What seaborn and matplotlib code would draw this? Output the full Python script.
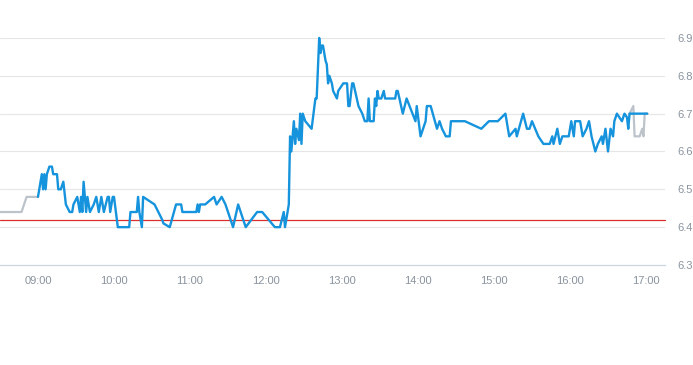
import matplotlib
matplotlib.use("Agg")
import matplotlib.pyplot as plt
import seaborn as sns
import pandas as pd

# ---------------- data ----------------
pre_times = ["08:30", "08:47", "08:51", "09:00"]
pre_prices = [6.44, 6.44, 6.48, 6.48]

day_times = [
    "09:00", "09:01", "09:03", "09:04", "09:05", "09:06", "09:07", "09:09", "09:11", "09:12",
    "09:15", "09:16", "09:18", "09:20", "09:22", "09:25", "09:27", "09:28", "09:31", "09:33",
    "09:34", "09:35", "09:36", "09:38", "09:39", "09:41", "09:44", "09:46", "09:48", "09:50",
    "09:52", "09:55", "09:56", "09:57", "09:59", "10:00", "10:03", "10:12", "10:13", "10:18",
    "10:19", "10:20", "10:22", "10:23", "10:32", "10:38", "10:39", "10:44", "10:49", "10:53",
    "10:54", "11:05", "11:06", "11:07", "11:08", "11:12", "11:19", "11:21", "11:25", "11:28",
    "11:34", "11:38", "11:44", "11:53", "11:57", "12:07", "12:11", "12:14", "12:15", "12:18",
    "12:19", "12:20", "12:22", "12:23", "12:24", "12:26", "12:27", "12:28", "12:29", "12:31",
    "12:36", "12:39", "12:40", "12:42", "12:43", "12:44", "12:45", "12:47", "12:48", "12:49",
    "12:50", "12:52", "12:53", "12:56", "12:57", "13:01", "13:04", "13:05", "13:06", "13:08",
    "13:09", "13:13", "13:16", "13:18", "13:20", "13:21", "13:22", "13:25", "13:26", "13:27",
    "13:28", "13:29", "13:31", "13:33", "13:34", "13:42", "13:43", "13:44", "13:48", "13:51",
    "13:58", "13:59", "14:02", "14:06", "14:07", "14:10", "14:15", "14:17", "14:19", "14:22",
    "14:25", "14:26", "14:37", "14:50", "14:56", "15:03", "15:09", "15:12", "15:17", "15:18",
    "15:23", "15:26", "15:28", "15:30", "15:35", "15:39", "15:44", "15:46", "15:47", "15:50",
    "15:52", "15:54", "15:59", "16:01", "16:03", "16:04", "16:08", "16:10", "16:13", "16:15",
    "16:17", "16:20", "16:22", "16:25", "16:26", "16:28", "16:30", "16:32", "16:34", "16:35",
    "16:37", "16:39", "16:41", "16:43", "16:45", "16:46", "16:47", "17:01",
]
day_prices = [
    6.48, 6.50, 6.54, 6.50, 6.54, 6.50, 6.54, 6.56, 6.56, 6.54,
    6.54, 6.50, 6.50, 6.52, 6.46, 6.44, 6.44, 6.46, 6.48, 6.44,
    6.48, 6.44, 6.52, 6.44, 6.48, 6.44, 6.46, 6.48, 6.44, 6.48,
    6.44, 6.48, 6.48, 6.44, 6.48, 6.48, 6.40, 6.40, 6.44, 6.44,
    6.48, 6.44, 6.40, 6.48, 6.46, 6.42, 6.41, 6.40, 6.46, 6.46,
    6.44, 6.44, 6.46, 6.44, 6.46, 6.46, 6.48, 6.46, 6.48, 6.46,
    6.40, 6.46, 6.40, 6.44, 6.44, 6.40, 6.40, 6.44, 6.40, 6.46,
    6.64, 6.60, 6.68, 6.62, 6.66, 6.63, 6.70, 6.62, 6.70, 6.68,
    6.66, 6.74, 6.74, 6.90, 6.86, 6.88, 6.88, 6.84, 6.83, 6.78,
    6.80, 6.78, 6.76, 6.74, 6.76, 6.78, 6.78, 6.72, 6.72, 6.78,
    6.78, 6.72, 6.70, 6.68, 6.68, 6.74, 6.68, 6.68, 6.74, 6.72,
    6.76, 6.74, 6.74, 6.76, 6.74, 6.74, 6.76, 6.76, 6.70, 6.74,
    6.68, 6.72, 6.64, 6.68, 6.72, 6.72, 6.66, 6.68, 6.66, 6.64,
    6.64, 6.68, 6.68, 6.66, 6.68, 6.68, 6.70, 6.64, 6.66, 6.64,
    6.70, 6.66, 6.66, 6.68, 6.64, 6.62, 6.62, 6.64, 6.62, 6.66,
    6.62, 6.64, 6.64, 6.68, 6.64, 6.68, 6.68, 6.64, 6.66, 6.68,
    6.64, 6.60, 6.62, 6.64, 6.62, 6.66, 6.60, 6.66, 6.64, 6.68,
    6.70, 6.69, 6.68, 6.70, 6.69, 6.66, 6.70, 6.70,
]

post_times = ["16:47", "16:50", "16:51", "16:55", "16:57", "16:58", "16:59", "17:01"]
post_prices = [6.70, 6.72, 6.64, 6.64, 6.66, 6.64, 6.70, 6.70]

prev_close = 6.42
y_ticks = [6.3, 6.4, 6.5, 6.6, 6.7, 6.8, 6.9]
x_tick_labels = ["09:00", "10:00", "11:00", "12:00", "13:00", "14:00", "15:00", "16:00", "17:00"]
x_range = ["08:30", "17:15"]

DAY = "2024-01-02 "


def to_dt(ts):
    return pd.to_datetime([DAY + t for t in ts])


pre_df = pd.DataFrame({"time": to_dt(pre_times), "price": pre_prices})
day_df = pd.DataFrame({"time": to_dt(day_times), "price": day_prices})
post_df = pd.DataFrame({"time": to_dt(post_times), "price": post_prices})

# ---------------- style ----------------
sns.set_style("white")
plt.rcParams["font.family"] = ["Liberation Sans", "DejaVu Sans"]

label_color = "#8a939e"
grid_color = "#e6e6e6"
axis_color = "#ccd6e0"

fig = plt.figure(figsize=(6.93, 3.65), dpi=100)
ax = fig.add_axes([0.0, 0.274, 0.9596, 0.622])

ax.axhline(prev_close, color="#d9302c", lw=0.9, zorder=2)

sns.lineplot(data=pre_df, x="time", y="price", ax=ax, color="#bcc3ca", lw=1.6, zorder=3)
sns.lineplot(data=post_df, x="time", y="price", ax=ax, color="#bcc3ca", lw=1.6, zorder=3)
sns.lineplot(data=day_df, x="time", y="price", ax=ax, color="#1593dc", lw=1.7, zorder=4)
for ln in ax.lines:
    ln.set_clip_on(False)

ax.set_ylim(y_ticks[0], y_ticks[-1])
ax.set_xlim(to_dt(x_range)[0], to_dt(x_range)[1])

ax.set_yticks(y_ticks)
ax.set_yticklabels([f"{v:.1f}" for v in y_ticks])
ax.yaxis.tick_right()
ax.tick_params(axis="y", length=0, pad=9, labelsize=8, labelcolor=label_color)

ax.set_xticks(to_dt(x_tick_labels))
ax.set_xticklabels(x_tick_labels)
ax.tick_params(axis="x", length=5, width=0.8, color=axis_color, pad=3,
               labelsize=8, labelcolor=label_color, direction="out")

for v in y_ticks[1:]:
    ax.axhline(v, color=grid_color, lw=0.8, zorder=1)

for s in ["top", "left", "right"]:
    ax.spines[s].set_visible(False)
ax.spines["bottom"].set_color(axis_color)
ax.spines["bottom"].set_linewidth(0.9)

ax.set_xlabel("")
ax.set_ylabel("")

fig.savefig("out.png", dpi=100)
